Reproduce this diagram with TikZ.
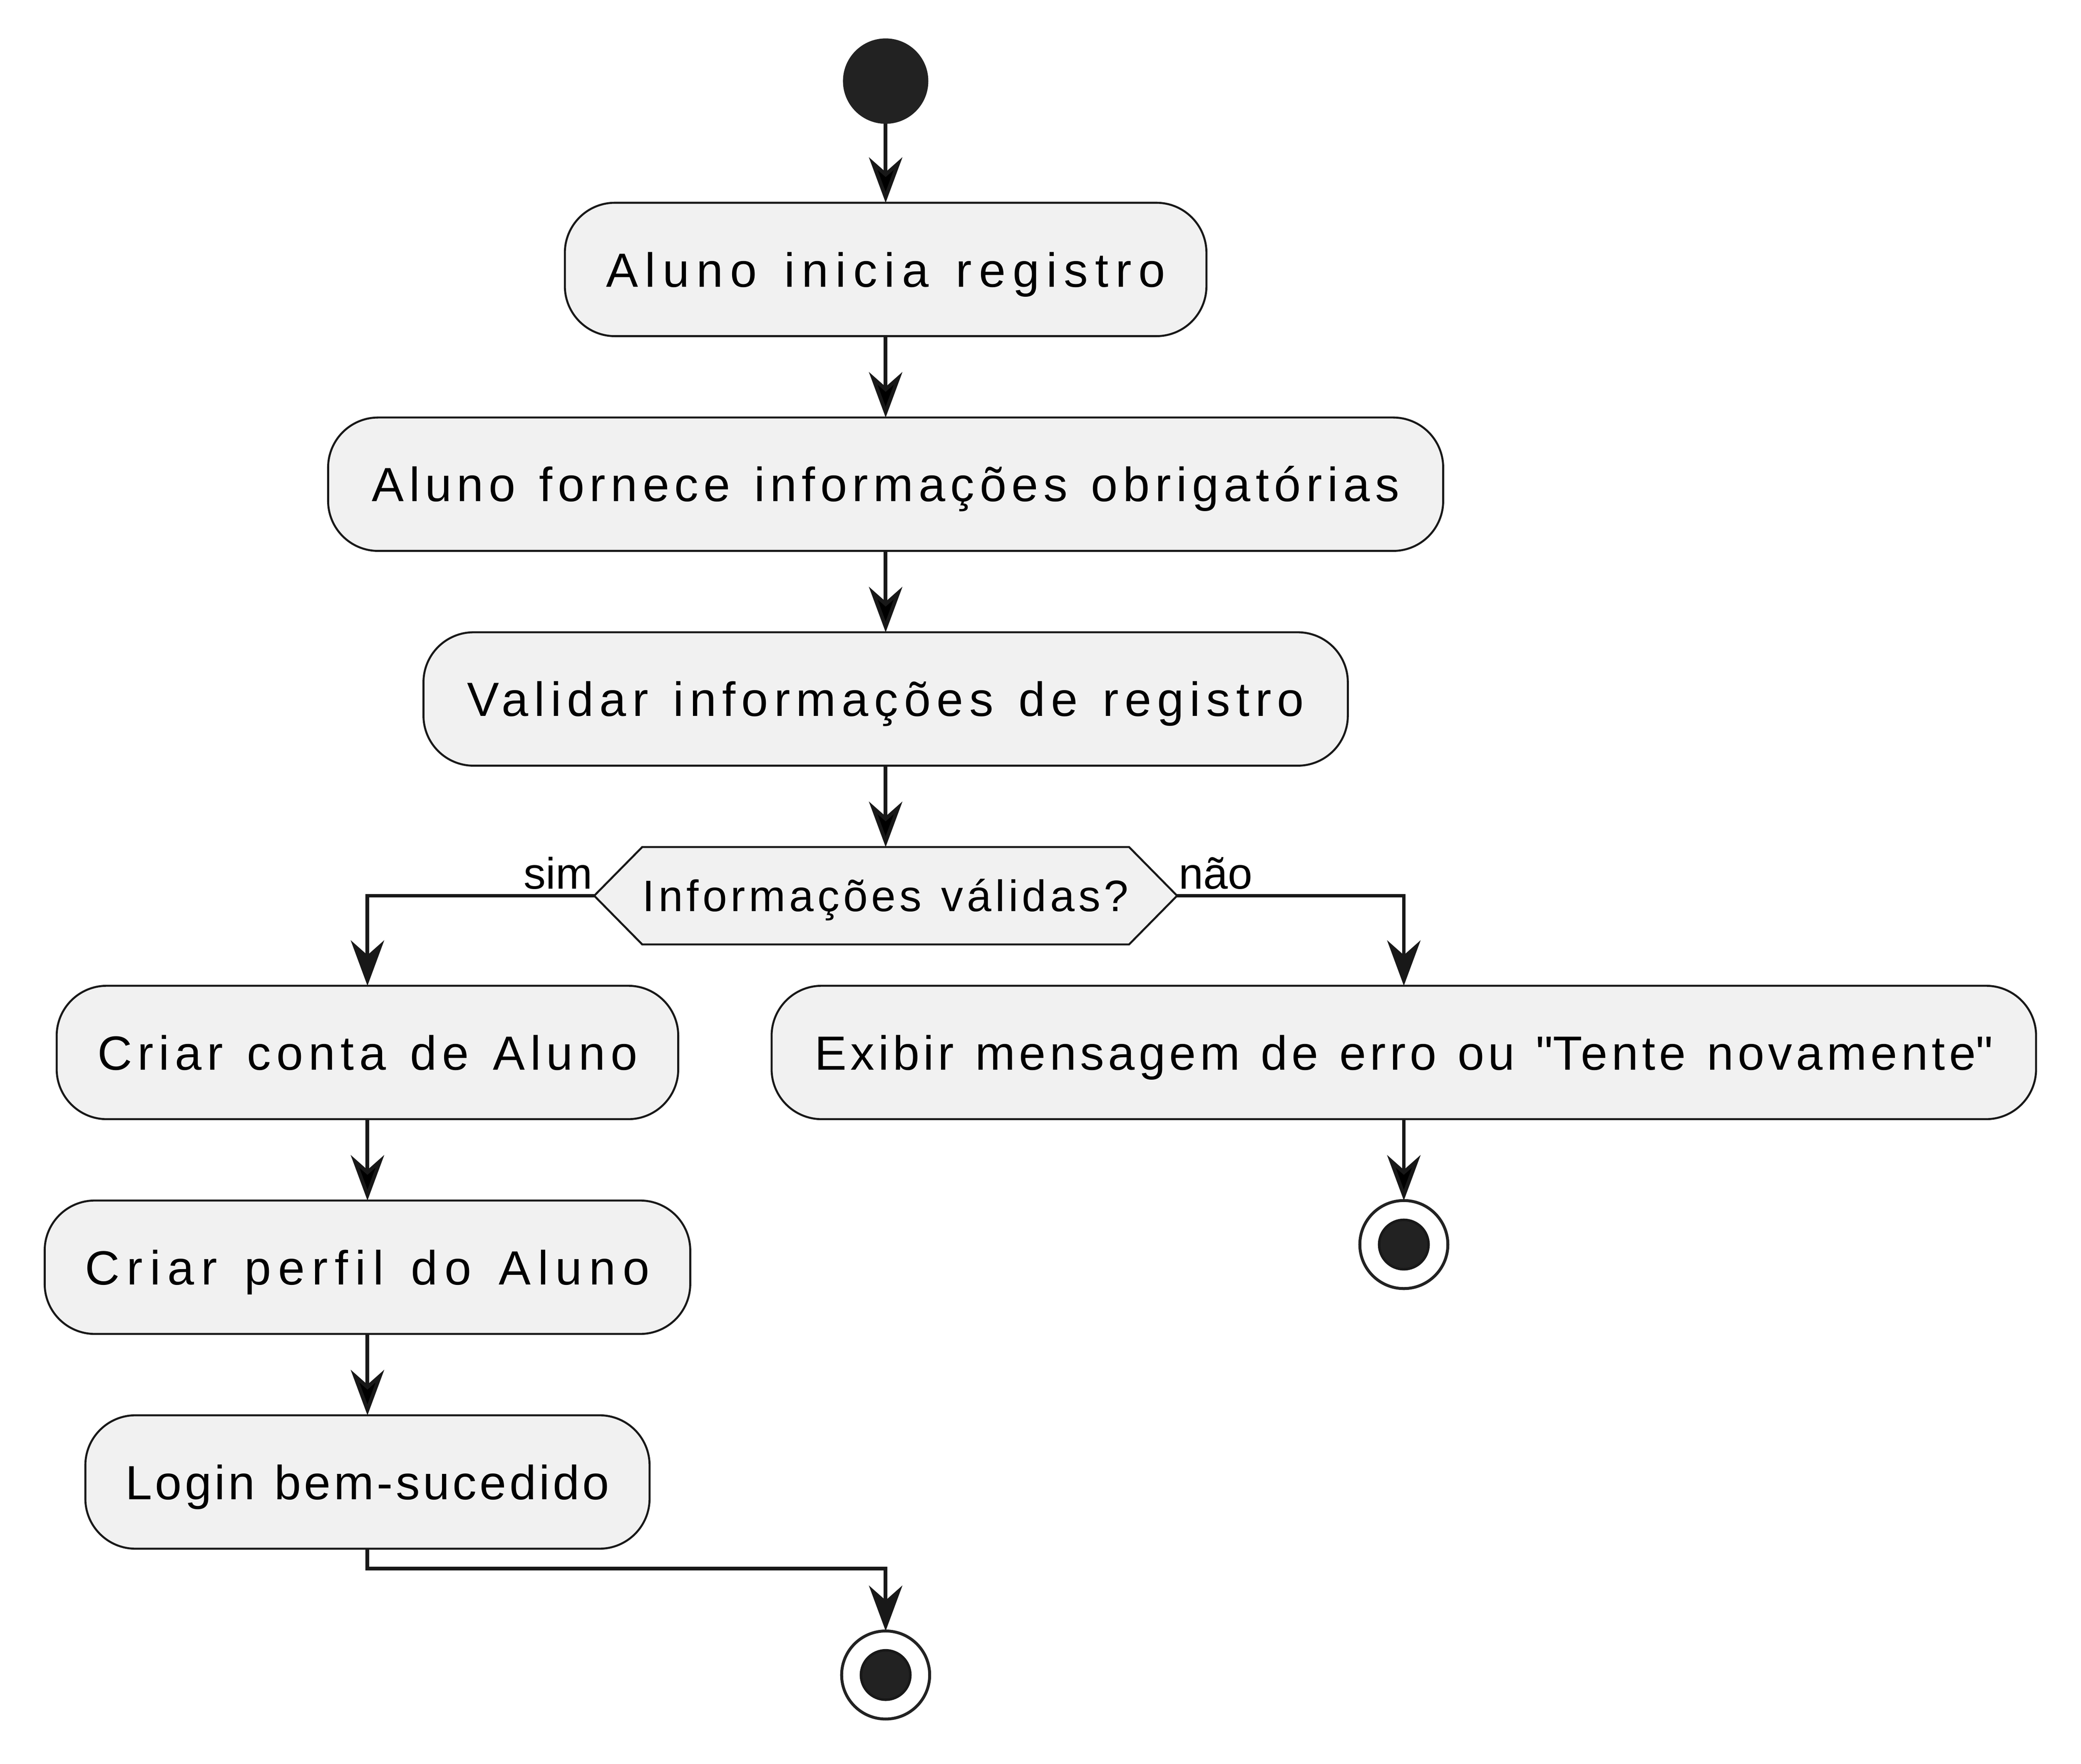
\documentclass[tikz,border=0pt]{standalone}
\usepackage{fontspec}
\setmainfont{Liberation Sans}
\usepackage{tikz}
\usetikzlibrary{positioning,arrows.meta,backgrounds}
\definecolor{umlfill}{HTML}{F1F1F1}
\definecolor{umlline}{HTML}{181818}
\definecolor{umldot}{HTML}{222222}
\newcommand\boxfont{\fontsize{36}{43}\selectfont}
\newcommand\lblfont{\fontsize{33}{40}\selectfont}
% spaced text: letters and word spaces
\newcommand\ls[1]{\addfontfeatures{LetterSpace=#1}\spaceskip=\dimexpr\fontdimen2\font+#1em/100\relax}
\tikzset{act node/.style={rectangle,rounded corners=37.5pt,draw=umlline,fill=umlfill,line width=1.5pt,minimum width=#1,minimum height=100pt,inner sep=0pt,outer sep=0pt,font=\boxfont,text height=26pt,text depth=0pt},
dec node/.style={minimum width=437pt,minimum height=73pt,inner sep=0pt,outer sep=0pt,font=\lblfont,text height=23.6pt,text depth=0pt},
dec line/.style={draw=umlline,fill=umlfill,line width=1.5pt},
start node/.style={circle,fill=umldot,minimum size=64pt,inner sep=0pt,outer sep=0pt},
stop node/.style={circle,draw=umldot,fill=white,line width=2.2pt,minimum size=66pt,inner sep=0pt,outer sep=0pt,
  path picture={\draw[fill=umldot,draw=umlline,line width=1.9pt] (path picture bounding box.center) circle (18.5pt);}},
flow/.style={draw=umlline,line width=2.8pt,-{Stealth[length=34pt,width=25pt,inset=11pt]}},
lbl/.style={font=\lblfont,inner sep=0pt},}

\begin{document}
\begin{tikzpicture}[x=1pt,y=-1pt]
    \useasboundingbox (0,0) rectangle (1560.2,1322.3);
    % main column
    \node[start node] (start) at (664,60.8) {};
    \node[act node=481pt] (b1) at (664,202) {\ls{14.6}Aluno inicia registro};
    \node[act node=836pt] (b2) [below = 61pt of b1] {\ls{10.8}Aluno fornece informações obrigatórias};
    \node[act node=693pt] (b3) [below = 61pt of b2] {\ls{12.2}Validar informações de registro};
    \node[dec node] (dec) [below = 61pt of b3] {\ls{8.4}Informações válidas?};
    \begin{scope}[on background layer]
    \draw[dec line] (dec.west) -- ([xshift=36pt]dec.north west) -- ([xshift=-36pt]dec.north east)
      -- (dec.east) -- ([xshift=-36pt]dec.south east) -- ([xshift=36pt]dec.south west) -- cycle;
    \end{scope}

    % sim
    \node[act node=466pt] (b4) at (275.5,789) {\ls{11.2}Criar conta de Aluno};
    \node[act node=484pt] (b5) [below = 61pt of b4] {\ls{14.6}Criar perfil do Aluno};
    \node[act node=423pt] (b6) [below = 61pt of b5] {\ls{6.3}Login bem-sucedido};
    \node[stop node] (stop2) at (664,1255.7) {};

    % nao
    \node[act node=948pt] (b7) at (1052.5,789) {\ls{8.1}Exibir mensagem de erro ou \textquotedbl Tente novamente\textquotedbl};
    \node[stop node] (stop1) [below = 61pt of b7] {};

    \path[flow]
    (start) edge (b1)
    (b1) edge (b2)
    (b2) edge (b3)
    (b3) edge (dec)
    (b4) edge (b5)
    (b5) edge (b6)
    (b7) edge (stop1)
    ;
    \draw[flow] (dec.west) node[lbl,anchor=base east,yshift=5pt] {sim} -| (b4);
    \draw[flow] (dec.east) node[lbl,anchor=base west,yshift=5pt] {não} -| (b7);
    \draw[flow] (b6.south) -- ++(0,15) -| (stop2);
\end{tikzpicture}
\end{document}
